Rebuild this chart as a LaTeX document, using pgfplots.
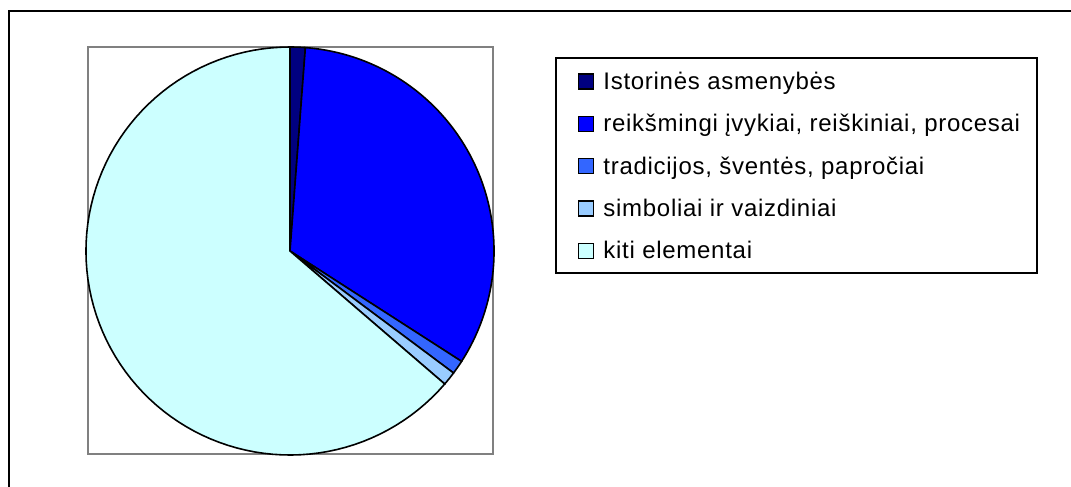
\documentclass[border=0pt]{standalone}
\usepackage{pgfplots}
\pgfplotsset{compat=1.18}
\usepackage{fontspec}
\setmainfont{Liberation Sans}
\newfontfamily\legfont[LetterSpace=3]{Liberation Sans}

\definecolor{s1}{HTML}{000080}
\definecolor{s2}{HTML}{0000FF}
\definecolor{s3}{HTML}{3366FF}
\definecolor{s4}{HTML}{99CCFF}
\definecolor{s5}{HTML}{CCFFFF}

% one wedge: start (percent), value (percent), colour; clockwise from 12 o'clock
\newcommand\pieslice[3]{%
  \addplot[draw=black, line width=0.8pt, fill=#3, samples=90, variable=\t,
    domain={90-3.6*(#1+#2)}:{90-3.6*(#1)}]
    ({cos(\t)}, {sin(\t)}) -- (axis cs:0,0) -- cycle;
}

\begin{document}
\begin{tikzpicture}
  \useasboundingbox (0,0) rectangle (535.5pt,-243.5pt);
  \draw[line width=1pt] (4.5pt,-250pt) -- (4.5pt,-5.5pt) -- (540pt,-5.5pt);

  \begin{axis}[
    at={(44pt,-227pt)}, anchor=south west,
    scale only axis, width=202.5pt, height=203.5pt,
    xmin=-0.990, xmax=0.995, ymin=-0.995, ymax=1.0,
    xtick=\empty, ytick=\empty,
    axis line style={draw=gray, line width=1pt},
    clip=false,
    legend style={
      at={(1.1531,0.9754)}, anchor=north west,
      draw=black, line width=1pt,
      inner xsep=8.5pt, inner ysep=7.2pt,
      row sep=12.55pt, column sep=4.5pt,
      font=\legfont\fontsize{12pt}{14pt}\selectfont,
      nodes={inner sep=0pt, text height=8.6pt, text depth=0pt},
    },
    legend cell align=left,
    legend image code/.code={
      \path (0pt,0pt);
      \draw[#1, line width=0.6pt, draw=black] (2.5pt,-4.0pt) rectangle (10pt,3.5pt);
    },
  ]
    \pieslice{0}{1.2}{s1}
    \pieslice{1.2}{32.9}{s2}
    \pieslice{34.1}{1.1}{s3}
    \pieslice{35.2}{1.1}{s4}
    \pieslice{36.3}{63.7}{s5}
    \legend{Istorinės asmenybės,
      {reikšmingi įvykiai, reiškiniai, procesai},
      {tradicijos, šventės, papročiai},
      simboliai ir vaizdiniai,
      kiti elementai}
  \end{axis}
\end{tikzpicture}
\end{document}
